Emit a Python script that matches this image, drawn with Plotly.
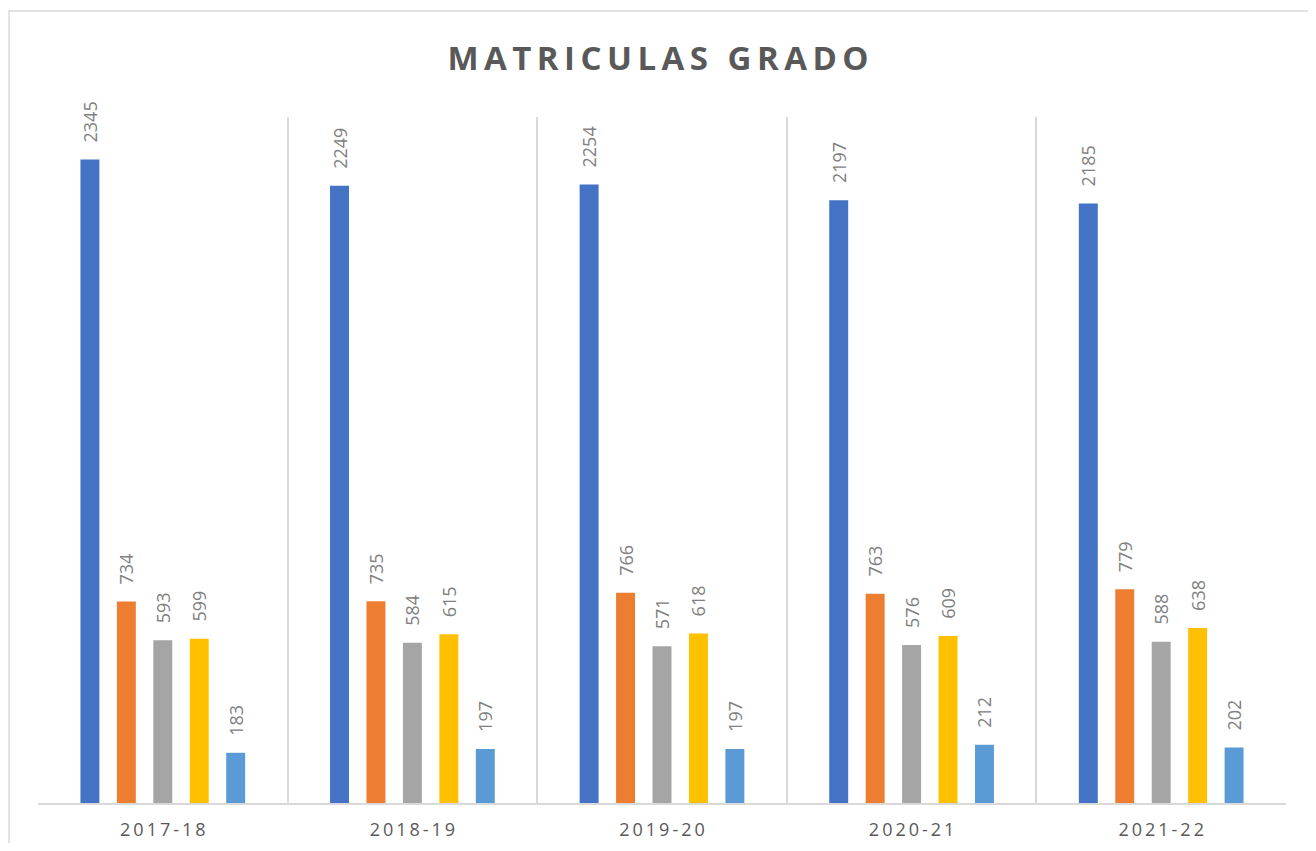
import plotly.graph_objects as go

# school years on the x axis
years = ["2017-18", "2018-19", "2019-20", "2020-21", "2021-22"]

# five series (no legend in the original)
serie_1 = [2345, 2249, 2254, 2197, 2185]
serie_2 = [734, 735, 766, 763, 779]
serie_3 = [593, 584, 571, 576, 588]
serie_4 = [599, 615, 618, 609, 638]
serie_5 = [183, 197, 197, 212, 202]

series = [
    ("Serie 1", serie_1, "#4472C4"),
    ("Serie 2", serie_2, "#ED7D31"),
    ("Serie 3", serie_3, "#A5A5A5"),
    ("Serie 4", serie_4, "#FFC000"),
    ("Serie 5", serie_5, "#5B9BD5"),
]

# letter spacing like the original (thin spaces between characters)
spaced = ["\u2009".join(y) for y in years]
title_txt = "\u2009".join("MATRICULAS GRADO")

fig = go.Figure()
for name, vals, color in series:
    fig.add_trace(go.Bar(
        x=spaced,
        y=vals,
        name=name,
        marker_color=color,
        marker_line_width=0,
        text=vals,
        texttemplate="\u00a0\u00a0\u00a0%{y}",
        textposition="outside",
        textangle=-90,
        constraintext="none",
        textfont=dict(size=18, color="#808080"),
        cliponaxis=False,
    ))

# page body has an 8px margin, so the figure is sized to fit inside the window
fig.update_layout(
    title=dict(
        text="<b>" + title_txt + "</b>",
        x=0.5, xanchor="center",
        y=0.940, yanchor="middle",
        font=dict(size=33, color="#595959", family="Open Sans"),
    ),
    font=dict(family="Open Sans", color="#595959"),
    barmode="group",
    bargap=0.27,
    bargroupgap=0.48,
    showlegend=False,
    plot_bgcolor="white",
    paper_bgcolor="white",
    width=1300,
    height=835,
    margin=dict(l=30, r=22, t=109, b=40),
    xaxis=dict(
        tickson="boundaries",
        showgrid=True,
        gridcolor="#D9D9D9",
        gridwidth=1.5,
        showline=True,
        linecolor="#D9D9D9",
        linewidth=1.5,
        ticks="",
        automargin=False,
        ticklabelstandoff=10,
        tickfont=dict(size=18, color="#595959"),
    ),
    yaxis=dict(
        range=[0, 2500],
        visible=False,
        showgrid=False,
        automargin=False,
    ),
    shapes=[dict(
        type="rect", xref="paper", yref="paper",
        x0=-0.0232, x1=1.0224, y0=-0.09, y1=1.1545,
        line=dict(color="#D9D9D9", width=1.5),
        fillcolor="rgba(0,0,0,0)",
        layer="below",
    )],
)

fig.write_html("out.html")
